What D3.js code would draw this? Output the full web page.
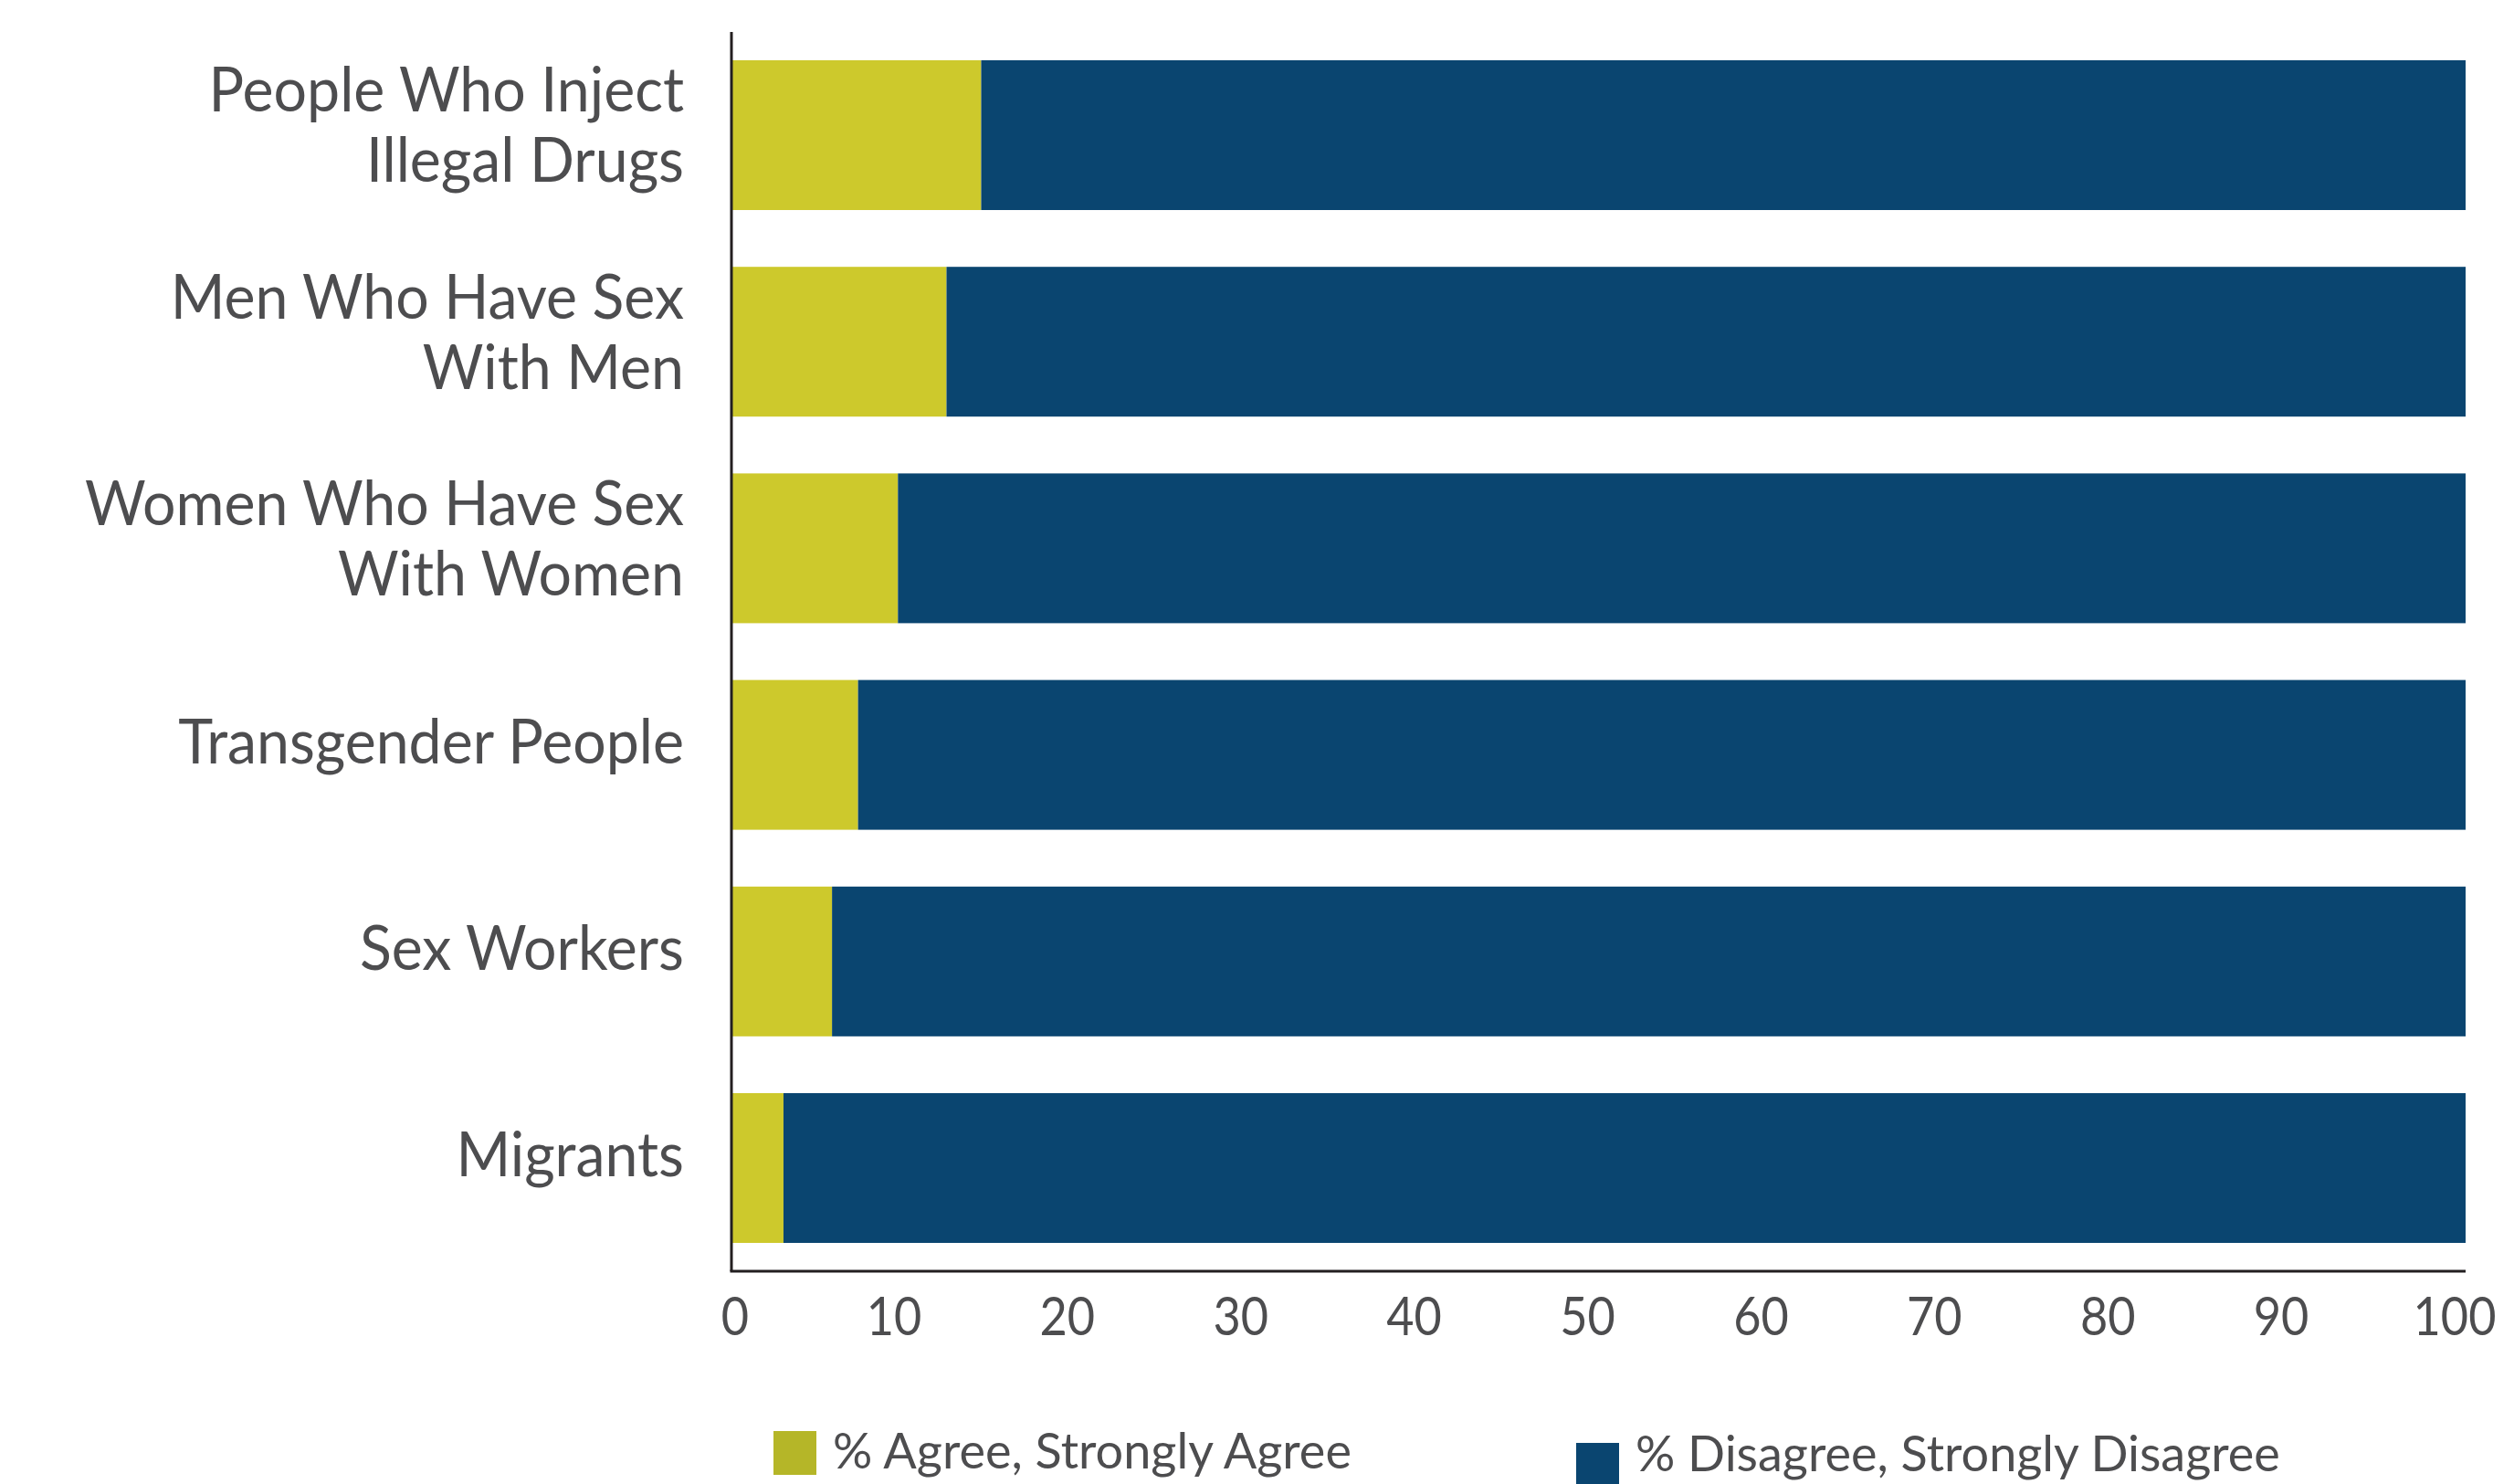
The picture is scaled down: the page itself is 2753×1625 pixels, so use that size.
<!DOCTYPE html>
<html>
<head>
<meta charset="utf-8">
<script src="https://cdn.jsdelivr.net/npm/d3@7"></script>
<style>
  html, body { margin: 0; padding: 0; background: #fff; }
  svg { display: block; }
</style>
</head>
<body>
<div id="chart"></div>
<script>
// data
const categories = [
  "People Who Inject\nIllegal Drugs",
  "Men Who Have Sex\nWith Men",
  "Women Who Have Sex\nWith Women",
  "Transgender People",
  "Sex Workers",
  "Migrants"
];
const agree = [14.4, 12.4, 9.6, 7.3, 5.8, 3.0];
const disagree = [85.6, 87.6, 90.4, 92.7, 94.2, 97.0];
const xTicks = [0, 10, 20, 30, 40, 50, 60, 70, 80, 90, 100];
const seriesNames = ["% Agree, Strongly Agree", "% Disagree, Strongly Disagree"];

const width = 2753, height = 1625;
const textColor = "#4d4d4f";
const barColors = ["#cdc92c", "#0a4570"];
const legendColors = ["#b5b628", "#0a4570"];
const font = "Lato, 'Open Sans', sans-serif";

const svg = d3.select("#chart")
  .append("svg")
  .attr("width", width)
  .attr("height", height)
  .style("font-family", font);

const x = d3.scaleLinear().domain([0, 100]).range([801, 2700]);
const y = d3.scaleBand()
  .domain(categories)
  .range([35, 1392])
  .paddingInner(0.275)
  .paddingOuter(0.137);

// stacked rows
const rows = categories.map((c, i) => ({ cat: c, agree: agree[i], disagree: disagree[i] }));
const stack = d3.stack().keys(["agree", "disagree"]);
const layers = stack(rows);

svg.append("g")
  .selectAll("g")
  .data(layers)
  .join("g")
  .attr("fill", (d, i) => barColors[i])
  .selectAll("rect")
  .data(d => d)
  .join("rect")
  .attr("x", d => x(d[0]))
  .attr("y", d => y(d.data.cat))
  .attr("width", d => x(d[1]) - x(d[0]))
  .attr("height", y.bandwidth());

// axis lines
svg.append("line")
  .attr("x1", x(0)).attr("x2", x(0))
  .attr("y1", y.range()[0]).attr("y2", y.range()[1])
  .attr("stroke", "#231f20").attr("stroke-width", 3);

svg.append("line")
  .attr("x1", x(0) - 1.5).attr("x2", x(100))
  .attr("y1", y.range()[1]).attr("y2", y.range()[1])
  .attr("stroke", "#231f20").attr("stroke-width", 3);

// x tick labels
svg.append("g")
  .selectAll("text")
  .data(xTicks)
  .join("text")
  .attr("text-anchor", "middle")
  .attr("fill", textColor)
  .style("font-size", "58px")
  .attr("transform", d => `translate(${x(d) - (d === 0 ? -4 : 12)},1462) scale(0.9,1)`)
  .text(d => d);

// category labels
const labels = svg.append("g")
  .selectAll("text")
  .data(categories)
  .join("text")
  .attr("text-anchor", "end")
  .attr("fill", textColor)
  .style("font-size", "68px")
  .attr("transform", d => {
    const lines = d.split("\n");
    const cy = y(d) + y.bandwidth() / 2;
    const base = lines.length > 1 ? cy - 25.5 : cy + 9;
    return `translate(749,${base}) scale(0.947,1)`;
  });

labels.selectAll("tspan")
  .data(d => d.split("\n"))
  .join("tspan")
  .attr("x", 0)
  .attr("dy", (d, i) => i === 0 ? 0 : 77)
  .text(d => d);

// legend
const legendX = [847, 1726];
const legendY = [1567, 1580];
const legendBase = [1608, 1611];
const legend = svg.append("g")
  .selectAll("g")
  .data(seriesNames)
  .join("g")
  .attr("transform", (d, i) => `translate(${legendX[i]},0)`);

legend.append("rect")
  .attr("y", (d, i) => legendY[i])
  .attr("width", 47)
  .attr("height", 48)
  .attr("fill", (d, i) => legendColors[i]);

legend.append("text")
  .attr("x", 65)
  .attr("y", (d, i) => legendBase[i])
  .attr("fill", textColor)
  .style("font-size", "54px")
  .text(d => d);
</script>
</body>
</html>
